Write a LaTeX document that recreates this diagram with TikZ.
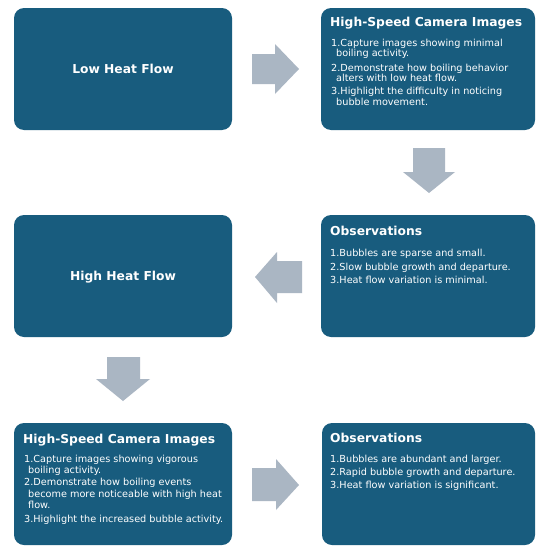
\documentclass[tikz,border=0pt]{standalone}
\usepackage{fontspec}
\setmainfont{DejaVu Sans}
\definecolor{boxblue}{RGB}{24,92,126}
\definecolor{arrowgray}{RGB}{170,182,195}
\begin{document}
\begin{tikzpicture}[x=1pt,y=-1pt,
  panel/.style={fill=boxblue,draw=none,rounded corners=10pt},
  blockarrow/.style={fill=arrowgray,draw=none},
  head/.style={text=white,font=\fontsize{12.3}{14}\selectfont\bfseries,inner sep=0pt,anchor=base west},
  title/.style={text=white,font=\fontsize{12.3}{14}\selectfont\bfseries,inner sep=0pt},
  body/.style={text=white,font=\fontsize{9.7}{11}\selectfont,inner sep=0pt,anchor=base west}]
\useasboundingbox (0,0) rectangle (536,546);
\fill[white] (0,0) rectangle (536,546);
% panels
\fill[panel] (14,8) rectangle (232,130);
\fill[panel] (321,8) rectangle (535,130);
\fill[panel] (14,215) rectangle (232,337);
\fill[panel] (321,215) rectangle (535,337);
\fill[panel] (14,423) rectangle (232,545);
\fill[panel] (322,423) rectangle (535,545);
% block arrows
\fill[blockarrow] (252,54) -- (275,54) -- (275,44) -- (299,69) -- (275,94) -- (275,84) -- (252,84) -- cycle;
\fill[blockarrow] (413,148) -- (445,148) -- (445,172) -- (455,172) -- (429,193) -- (403,172) -- (413,172) -- cycle;
\fill[blockarrow] (302,261) -- (277,261) -- (277,252) -- (255,277) -- (277,303) -- (277,293) -- (302,293) -- cycle;
\fill[blockarrow] (107,357) -- (140,357) -- (140,379) -- (150,379) -- (123,401) -- (96,379) -- (107,379) -- cycle;
\fill[blockarrow] (252,468) -- (276,468) -- (276,459) -- (299,485) -- (276,510) -- (276,501) -- (252,501) -- cycle;
% box A
\node[title] (lowtitle) at (123,69) {Low Heat Flow};
% box B
\node[head] (bhead) at (330,27) {High-Speed Camera Images};
\node[body] (bl1) at (331,46) {1.Capture images showing minimal};
\node[body] (bl2) at (336,56) {boiling activity.};
\node[body] (bl3) at (331,71) {2.Demonstrate how boiling behavior};
\node[body] (bl4) at (336,81.5) {alters with low heat flow.};
\node[body] (bl5) at (331,94.5) {3.Highlight the difficulty in noticing};
\node[body] (bl6) at (336,105) {bubble movement.};
% box C
\node[title] (hightitle) at (123,277) {High Heat Flow};
% box D
\node[head] (dhead) at (330,235) {Observations};
\node[body] (dl1) at (330,256) {1.Bubbles are sparse and small.};
\node[body] (dl2) at (330,270) {2.Slow bubble growth and departure.};
\node[body] (dl3) at (330,283) {3.Heat flow variation is minimal.};
% box E
\node[head] (ehead) at (23,443) {High-Speed Camera Images};
\node[body] (el1) at (24,462) {1.Capture images showing vigorous};
\node[body] (el2) at (28,473) {boiling activity.};
\node[body] (el3) at (24,485.5) {2.Demonstrate how boiling events};
\node[body] (el4) at (28,497) {become more noticeable with high heat};
\node[body] (el5) at (28,508) {flow.};
\node[body] (el6) at (24,522) {3.Highlight the increased bubble activity.};
% box F
\node[head] (fhead) at (330,442) {Observations};
\node[body] (fl1) at (330,462) {1.Bubbles are abundant and larger.};
\node[body] (fl2) at (330,475) {2.Rapid bubble growth and departure.};
\node[body] (fl3) at (330,488) {3.Heat flow variation is significant.};
\end{tikzpicture}
\end{document}
